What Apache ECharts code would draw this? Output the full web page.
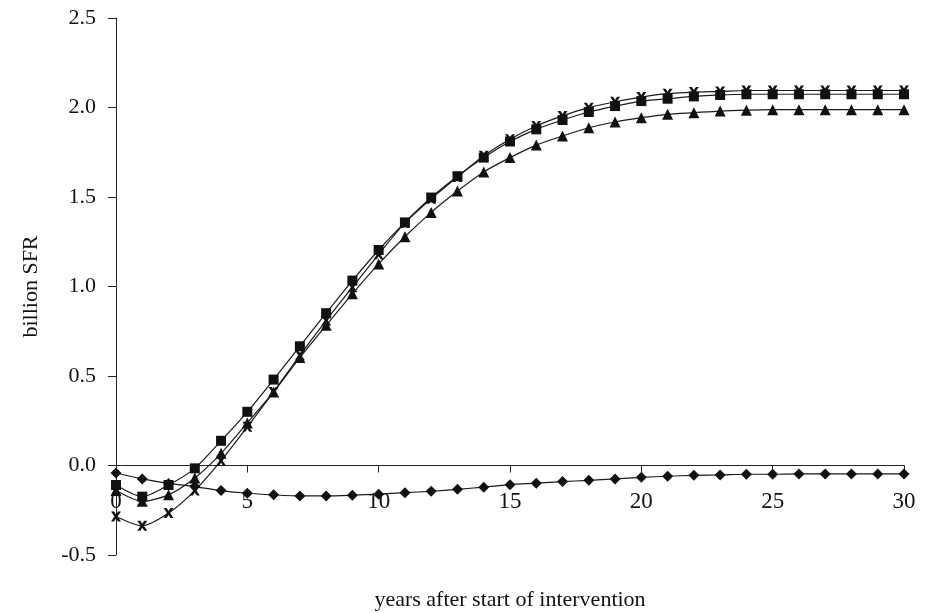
<!DOCTYPE html>
<html>
<head>
<meta charset="utf-8">
<script src="https://cdn.jsdelivr.net/npm/echarts@6/dist/echarts.min.js"></script>
<style>
  html, body { margin: 0; padding: 0; background: #fff; }
  #chart { width: 941px; height: 613px; }
</style>
</head>
<body>
<div id="chart"></div>
<script>
var years = [0, 1, 2, 3, 4, 5, 6, 7, 8, 9, 10, 11, 12, 13, 14, 15, 16, 17, 18, 19, 20, 21, 22, 23, 24, 25, 26, 27, 28, 29, 30];

var diamondData = [-0.042, -0.075, -0.100, -0.118, -0.140, -0.155, -0.164, -0.170, -0.170, -0.166, -0.160, -0.152, -0.144, -0.133, -0.121, -0.107,
    -0.099, -0.090, -0.083, -0.075, -0.066, -0.060, -0.055, -0.053, -0.049, -0.049, -0.047, -0.047, -0.047, -0.047, -0.047];
var squareData = [-0.109, -0.174, -0.109, -0.016, 0.138, 0.300, 0.480, 0.666, 0.851, 1.033, 1.204, 1.358, 1.497, 1.616, 1.720, 1.810,
    1.878, 1.930, 1.975, 2.008, 2.036, 2.049, 2.062, 2.070, 2.074, 2.074, 2.074, 2.074, 2.074, 2.074, 2.074];
var triangleData = [-0.140, -0.200, -0.164, -0.070, 0.068, 0.238, 0.411, 0.603, 0.783, 0.959, 1.126, 1.278, 1.414, 1.533, 1.640, 1.720,
    1.790, 1.841, 1.887, 1.919, 1.943, 1.962, 1.971, 1.980, 1.985, 1.988, 1.988, 1.988, 1.988, 1.988, 1.988];
var crossData = [-0.285, -0.337, -0.266, -0.140, 0.027, 0.216, 0.411, 0.616, 0.810, 0.996, 1.180, 1.355, 1.490, 1.612, 1.730, 1.823,
    1.897, 1.953, 1.999, 2.032, 2.058, 2.077, 2.086, 2.090, 2.095, 2.095, 2.095, 2.095, 2.095, 2.095, 2.095];

// bold x marker
var crossSymbol = 'path://M0,0L3,0L5,3L7,0L10,0L6.6,5L10,10L7,10L5,7L3,10L0,10L3.4,5Z';

function pairs(vals) {
    var out = [];
    for (var i = 0; i < years.length; i++) {
        out.push([years[i], vals[i]]);
    }
    return out;
}

function makeSeries(name, vals, symbol, size) {
    return {
        name: name,
        type: 'line',
        smooth: 0.25,
        symbol: symbol,
        symbolSize: size,
        showAllSymbol: true,
        lineStyle: { color: '#1a1a1a', width: 1.2 },
        itemStyle: { color: '#111' },
        data: pairs(vals)
    };
}

var fontFamily = 'Liberation Serif';

// x axis sits on the zero line: the plot is 537px tall and 0 is 2.5/3 of the way down
var xOffset = -537 * 0.5 / 3;

var option = {
    animation: false,
    backgroundColor: '#fff',
    grid: {
        left: 116,
        right: 37,
        top: 18,
        bottom: 58,
        outerBoundsMode: 'none'
    },
    xAxis: {
        type: 'value',
        min: 0,
        max: 30,
        interval: 5,
        offset: xOffset,
        name: 'years after start of intervention',
        nameLocation: 'middle',
        nameGap: 34 - xOffset,
        nameTextStyle: { fontFamily: fontFamily, fontSize: 22, color: '#111' },
        axisLine: { onZero: false, lineStyle: { color: '#222', width: 1 } },
        axisTick: { show: true, length: 7, lineStyle: { color: '#222' } },
        axisLabel: { fontFamily: fontFamily, fontSize: 23, color: '#111', margin: 25 },
        splitLine: { show: false }
    },
    yAxis: {
        type: 'value',
        min: -0.5,
        max: 2.5,
        interval: 0.5,
        name: 'billion SFR',
        nameLocation: 'middle',
        nameGap: 74,
        nameRotate: 90,
        nameTextStyle: { fontFamily: fontFamily, fontSize: 22, color: '#111' },
        axisLine: { show: true, onZero: false, lineStyle: { color: '#222', width: 1 } },
        axisTick: { show: true, length: 8, lineStyle: { color: '#222' } },
        axisLabel: {
            fontFamily: fontFamily, fontSize: 22, color: '#111', margin: 20,
            formatter: function (v) { return v.toFixed(1); }
        },
        splitLine: { show: false }
    },
    series: [
        makeSeries('diamond', diamondData, 'diamond', 11),
        makeSeries('square', squareData, 'rect', 10),
        makeSeries('triangle', triangleData, 'triangle', 11),
        makeSeries('cross', crossData, crossSymbol, 10)
    ]
};

var chart = echarts.init(document.getElementById('chart'));
chart.setOption(option);
</script>
</body>
</html>
